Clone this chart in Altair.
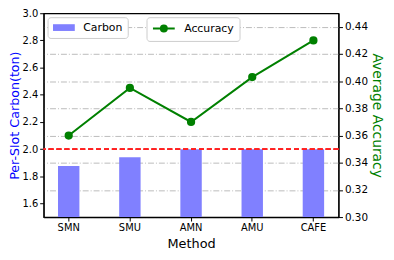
import altair as alt
import pandas as pd

methods = ["SMN", "SMU", "AMN", "AMU", "CAFE"]
carbon = [1.875, 1.94, 2.0, 2.0, 2.0]
accuracy = [0.36, 0.395, 0.37, 0.403, 0.43]
left_ticks = [1.6, 1.8, 2.0, 2.2, 2.4, 2.6, 2.8, 3.0]
right_ticks = [0.30, 0.32, 0.34, 0.36, 0.38, 0.40, 0.42, 0.44]
limit = 2.0

df = pd.DataFrame({"Method": methods, "Carbon": carbon, "Accuracy": accuracy,
                   "c": ["Carbon"] * 5, "a": ["Accuracy"] * 5})

FONT = "DejaVu Sans"
xenc = alt.X("Method:N", sort=methods,
             scale=alt.Scale(paddingInner=0.65, paddingOuter=0.235),
             axis=alt.Axis(title="Method", labelAngle=0, labelFontSize=10, titleFontSize=13,
                           titleFontWeight="normal", labelColor="black", titleColor="black",
                           domainColor="black", tickColor="black", tickSize=4, labelPadding=2,
                           titlePadding=5, labelFont=FONT, titleFont=FONT))

leg_common = dict(title=None, orient="none", fillColor="white", strokeColor="#cccccc",
                  cornerRadius=3, padding=5, labelFontSize=11, labelFont=FONT,
                  labelColor="black", legendY=4, symbolSize=121, symbolOffset=6,
                  labelOffset=14)

left_axis = alt.Axis(title="Per-Slot Carbon(ton)", values=left_ticks, format=".1f",
                     grid=False, titleColor="blue", titleFontSize=12.8,
                     titleFontWeight="normal", labelFontSize=10, labelColor="black",
                     domainColor="black", tickColor="black", tickSize=4, labelOverlap=False,
                     labelPadding=2, titlePadding=0, labelFont=FONT, titleFont=FONT)

bars = alt.Chart(df).mark_bar(clip=True).encode(
    x=xenc,
    y=alt.Y("Carbon:Q", scale=alt.Scale(domain=[1.5, 3.0], nice=False, zero=False),
            axis=left_axis),
    fill=alt.Fill("c:N", scale=alt.Scale(domain=["Carbon"], range=["#8080ff"]),
                  legend=alt.Legend(legendX=4, symbolType="M-2,-0.62H2V0.62H-2Z",
                                    symbolStrokeWidth=0, **leg_common)),
)

rule = alt.Chart(df).mark_rule(color="#ff2020", strokeDash=[5, 3], strokeWidth=1.5).encode(
    y=alt.datum(limit, type="quantitative",
                scale=alt.Scale(domain=[1.5, 3.0], nice=False, zero=False),
                axis=left_axis)
)

line = alt.Chart(df).mark_line(strokeWidth=2, point=alt.OverlayMarkDef(filled=True, size=40, color="green")).encode(
    x=xenc,
    y=alt.Y("Accuracy:Q", scale=alt.Scale(domain=[0.30, 0.45], nice=False, zero=False),
            axis=alt.Axis(title="Average Accuracy", orient="right", values=right_ticks,
                          format=".2f", grid=True, gridColor="#bbbbbb", gridDash=[6, 2, 1, 2],
                          gridWidth=1, titleColor="green", titleFontSize=14, labelOverlap=False,
                          titleFontWeight="normal", labelFontSize=10.5, labelColor="black",
                          domainColor="black", tickColor="black", tickSize=4,
                          labelPadding=2, titlePadding=2, labelFont=FONT, titleFont=FONT)),
    stroke=alt.Stroke("a:N", scale=alt.Scale(domain=["Accuracy"], range=["green"]),
                      legend=alt.Legend(legendX=104,
                                        symbolType="M-2,0H2M0.55,0A0.55,0.55,0,1,1,-0.55,0A0.55,0.55,0,1,1,0.55,0",
                                        symbolStrokeWidth=2,
                                        symbolFillColor="green", **leg_common)),
)

left = alt.layer(bars, rule)
chart = alt.layer(line, left).resolve_scale(y="independent", fill="independent", stroke="independent").properties(
    width=298, height=206,
    autosize=alt.AutoSizeParams(type="none"),
    padding={"left": 36, "top": 4, "right": 48, "bottom": 34},
).configure_view(stroke="black", strokeWidth=1.2).configure_axis(domainWidth=1.2)

chart.save("out.html", embed_options={"renderer": "svg", "actions": False})
